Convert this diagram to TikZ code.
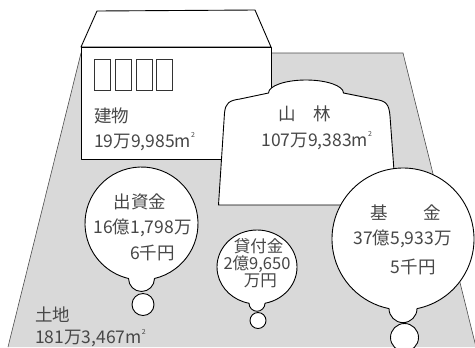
\documentclass[tikz,border=0pt]{standalone}
\usepackage{fontspec}
\newfontfamily\jp{Noto Sans CJK JP}
\newcommand\mysq{\raisebox{0.55em}{\fontsize{7bp}{7bp}\selectfont 2}}
\newcommand\balloonshape[5]{%
  \pgfmathsetmacro\bphi{asin(#5/#3)}%
  \pgfmathsetmacro\bsx{#1+#3*sin(\bphi)}%
  \pgfmathsetmacro\bsy{#2+#4*cos(\bphi)}%
  \draw[shapeline] (\bsx,\bsy)
     arc[start angle={90-\bphi}, end angle={-270+\bphi}, x radius=#3, y radius=#4]
     arc[start angle=180, end angle=0, radius=#5] -- cycle;}
\begin{document}
\begin{tikzpicture}[x=1bp,y=-1bp,
  shapeline/.style={draw=black, line width=0.9pt, fill=white, line join=round},
  landedge/.style={draw=black!70, line width=0.6pt},
  txt/.style={inner sep=0pt, text=black!72, font=\jp\fontsize{17.5bp}{20bp}\selectfont},
  stxt/.style={inner sep=0pt, text=black!72, font=\jp\fontsize{16.5bp}{18bp}\selectfont},
  tofu/.style={draw=black!80, line width=0.7pt}
]
\useasboundingbox (0,0) rectangle (475,347);
% land
\fill[black!15] (81,53) -- (403,53) -- (476,347) -- (8,347) -- cycle;
\draw[landedge] (8,347) -- (81,53) -- (403,53) -- (476,347);
% building
\draw[shapeline] (81,47) -- (97,11) -- (255,10) -- (271,47) -- cycle;
\draw[shapeline] (81,47) rectangle (271,159);
\foreach \x in {94.5,115.3,136,156.7} \draw[tofu] (\x,59.5) rectangle ++(16,30.5);
% forest
\draw[shapeline] (218.5,205) -- (224.5,113) .. controls (225.5,103) and (229,100.5) .. (240,99)
  -- (268.5,93) arc[start angle=180, end angle=360, x radius=37.5, y radius=13]
  -- (376,99.5) .. controls (386,101) and (389,104) .. (390,116) -- (396.5,205) -- cycle;
% balloons
\balloonshape{141.5}{223.5}{56.5}{56.5}{13}
\balloonshape{257}{267}{40}{37}{8}
\balloonshape{403}{239}{71}{71}{14}
\draw[shapeline] (143,304.5) circle[radius=11];
\draw[shapeline] (258,320.5) circle[radius=8];
\draw[shapeline] (404.5,337.5) circle[radius=14];
% texts
\node[txt, anchor=west] (bld) at (94,115.5) {建物};
\node[txt, anchor=west] (blda) at (94,141.5) {19万9,985m\mysq};
\node[txt] (for) at (305,114) {山　林};
\node[txt] (fora) at (316.7,140.5) {107万9,383m\mysq};
\node[txt] (inv) at (140,201.5) {出資金};
\node[txt] (inva) at (142.5,227.5) {16億1,798万};
\node[txt] (invb) at (152.5,252.5) {6千円};
\node[stxt] (loan) at (258.5,246.7) {貸付金};
\node[stxt] (loana) at (257,264) {2億9,650};
\node[stxt] (loanb) at (260.3,280.5) {万円};
\node[txt] (fund) at (405.7,213) {基　　金};
\node[txt] (funda) at (402.5,239) {37億5,933万};
\node[txt] (fundb) at (413.3,266.7) {5千円};
\node[txt, anchor=west] (land) at (35,315) {土地};
\node[txt, anchor=west] (landa) at (35,338) {181万3,467m\mysq};
\end{tikzpicture}
\end{document}
